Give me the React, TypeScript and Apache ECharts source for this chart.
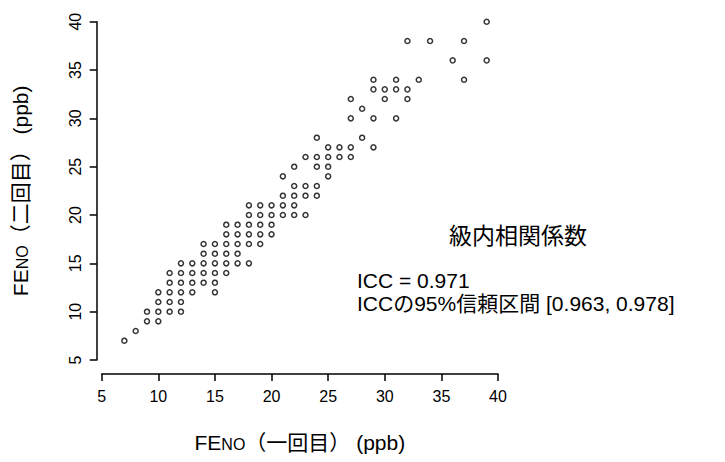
import React, { useEffect, useRef } from "react";
import * as echarts from "echarts";

// FENO first measurement (x) and second measurement (y), ppb
const feno1 = [
  7, 8, 9, 10, 9, 10, 11, 12, 10, 11, 12, 10, 11, 12, 13, 15, 11, 12, 13, 14, 15,
  11, 12, 13, 14, 15, 16, 12, 13, 14, 15, 16, 17, 18, 14, 15, 16, 17,
  14, 15, 16, 17, 18, 19, 16, 17, 18, 19, 20, 16, 17, 18, 19, 20,
  18, 19, 20, 21, 22, 23, 18, 19, 20, 21, 22, 21, 22, 23, 24, 22, 23, 24,
  21, 25, 22, 24, 25, 23, 24, 25, 26, 27, 25, 26, 27, 29, 24, 28,
  27, 29, 31, 28, 27, 30, 32, 29, 30, 31, 32, 29, 31, 33, 37, 36, 39,
  32, 34, 37, 39,
];
const feno2 = [
  7, 8, 9, 9, 10, 10, 10, 10, 11, 11, 11, 12, 12, 12, 12, 12, 13, 13, 13, 13, 13,
  14, 14, 14, 14, 14, 14, 15, 15, 15, 15, 15, 15, 15, 16, 16, 16, 16,
  17, 17, 17, 17, 17, 17, 18, 18, 18, 18, 18, 19, 19, 19, 19, 19,
  20, 20, 20, 20, 20, 20, 21, 21, 21, 21, 21, 22, 22, 22, 22, 23, 23, 23,
  24, 24, 25, 25, 25, 26, 26, 26, 26, 26, 27, 27, 27, 27, 28, 28,
  30, 30, 30, 31, 32, 32, 32, 33, 33, 33, 33, 34, 34, 34, 34, 36, 36,
  38, 38, 38, 40,
];
const axisTicks = [5, 10, 15, 20, 25, 30, 35, 40];
const annotTitle = "級内相関係数";
const annotLine1 = "ICC = 0.971";
const annotLine2 = "ICCの95%信頼区間 [0.963, 0.978]";

const FONT = '"Liberation Sans", Arial, "Noto Sans CJK JP", sans-serif';

export default function App() {
  const ref = useRef<HTMLDivElement>(null);
  useEffect(() => {
    if (!ref.current) return;
    const chart = echarts.init(ref.current, null, { renderer: "svg" });
    const data = feno1.map((x, i) => [x, feno2[i]]);
    const rich = {
      b: { fontSize: 21, fontFamily: FONT, color: "#000", verticalAlign: "bottom", lineHeight: 24 },
      s: { fontSize: 16, fontFamily: FONT, color: "#000", verticalAlign: "bottom", lineHeight: 21 },
    };
    chart.setOption({
      animation: false,
      backgroundColor: "#fff",
      textStyle: { fontFamily: FONT, color: "#000" },
      grid: { left: 101.7, right: 227, top: 21.7, bottom: 102, containLabel: false },
      xAxis: {
        type: "value",
        min: axisTicks[0],
        max: axisTicks[axisTicks.length - 1],
        interval: 5,
        offset: 14,
        splitLine: { show: false },
        axisLine: { show: true, lineStyle: { color: "#000", width: 1.5 } },
        axisTick: { show: true, length: 7, lineStyle: { color: "#000", width: 1.5 } },
        axisLabel: { fontSize: 16, color: "#000", margin: 14, fontFamily: FONT },
        name: "{b|FE}{s|NO}{b|（一回目） (ppb)}",
        nameLocation: "middle",
        nameGap: 55,
        nameTextStyle: { rich },
      },
      yAxis: {
        type: "value",
        min: axisTicks[0],
        max: axisTicks[axisTicks.length - 1],
        interval: 5,
        offset: 5,
        splitLine: { show: false },
        axisLine: { show: true, lineStyle: { color: "#000", width: 1.5 } },
        axisTick: { show: true, length: 7, lineStyle: { color: "#000", width: 1.5 } },
        axisLabel: { fontSize: 16, color: "#000", margin: 13, rotate: 90, fontFamily: FONT },
        name: "{b|FE}{s|NO}{b|（二回目） (ppb)}",
        nameLocation: "middle",
        nameRotate: 90,
        nameGap: 66,
        nameTextStyle: { rich },
      },
      series: [
        {
          type: "scatter",
          data,
          symbol: "circle",
          symbolSize: 5,
          itemStyle: { color: "#fff", borderColor: "#000", borderWidth: 1.5 },
        },
      ],
      graphic: [
        {
          type: "text",
          x: 518,
          y: 236,
          style: {
            text: annotTitle,
            fontSize: 23,
            fontFamily: FONT,
            fill: "#000",
            align: "center",
            verticalAlign: "middle",
          },
        },
        {
          type: "text",
          x: 357,
          y: 280,
          style: {
            text: annotLine1,
            fontSize: 21,
            fontFamily: FONT,
            fill: "#000",
            align: "left",
            verticalAlign: "middle",
          },
        },
        {
          type: "text",
          x: 357,
          y: 303,
          style: {
            text: annotLine2,
            fontSize: 21,
            fontFamily: FONT,
            fill: "#000",
            align: "left",
            verticalAlign: "middle",
          },
        },
      ],
    });
    return () => chart.dispose();
  }, []);
  return <div ref={ref} style={{ width: 725, height: 462, position: "absolute", left: 0, top: 0 }} />;
}
